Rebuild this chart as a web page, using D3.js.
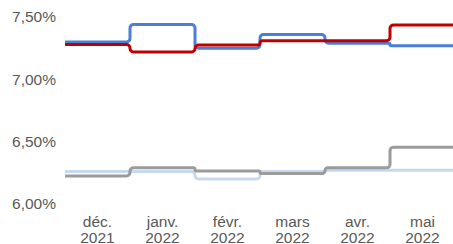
<!DOCTYPE html>
<html>
<head>
<meta charset="utf-8">
<script src="https://cdn.jsdelivr.net/npm/d3@7"></script>
<style>
body{margin:0;background:#fff;}
</style>
</head>
<body>
<div id="chart"></div>
<script>
let months=["déc.","janv.","févr.","mars","avr.","mai"];
let years=["2021","2022","2022","2022","2022","2022"];
let yTicks=[6.0,6.5,7.0,7.5];

// values in %
let blueValues=[7.30,7.44,7.25,7.36,7.29,7.27];
let redValues=[7.28,7.22,7.275,7.31,7.31,7.435];
let lightBlueValues=[6.26,6.26,6.20,6.26,6.27,6.27];
let grayValues=[6.225,6.29,6.265,6.245,6.29,6.455];

let series=[
	{name:"blue",values:blueValues,color:"#4a7fd7"},
	{name:"red",values:redValues,color:"#c00000"},
	{name:"lightblue",values:lightBlueValues,color:"#c6d9f1"},
	{name:"gray",values:grayValues,color:"#9b9b9b"}
];

let width=453,height=244;

let svg=d3.select("#chart").append("svg")
	.attr("width",width)
	.attr("height",height);

//---------SCALES--------------
let x=d3.scaleBand()
	.domain(d3.range(months.length))
	.range([65,455]);

let y=d3.scaleLinear()
	.domain([6,7.5])
	.range([204,17]);

let fr=d3.formatLocale({decimal:",",thousands:" ",grouping:[3],currency:["","€"]});
let fmt=fr.format(".2f");

//-------AXES------------------
let yAxis=d3.axisLeft(y)
	.tickValues(yTicks)
	.tickSize(0)
	.tickPadding(0)
	.tickFormat(d=>fmt(d)+"%");

let yAxisGroup=svg.append("g")
	.attr("transform","translate(56,0)")
	.call(yAxis);
yAxisGroup.select(".domain").remove();
yAxisGroup.selectAll("text")
	.attr("font-family","'Liberation Sans', Arial, sans-serif")
	.attr("font-size","15.5px")
	.attr("fill","#595959");

let xLabels=svg.append("g").selectAll("text")
	.data(d3.range(months.length))
	.enter().append("text")
	.attr("text-anchor","middle")
	.attr("font-family","'Liberation Sans', Arial, sans-serif")
	.attr("font-size","15.5px")
	.attr("fill","#595959");
xLabels.append("tspan")
	.attr("x",i=>x(i)+x.bandwidth()/2)
	.attr("y",227)
	.text(i=>months[i]);
xLabels.append("tspan")
	.attr("x",i=>x(i)+x.bandwidth()/2)
	.attr("y",243)
	.text(i=>years[i]);

//--------STEP LINES (rounded corners)--------
function stepPath(values){
	let pts=[];
	values.forEach(function(v,i){
		pts.push([x(i),y(v)]);
		pts.push([x(i)+x.bandwidth(),y(v)]);
	});
	// merge into corner list
	let p=d3.path();
	p.moveTo(pts[0][0],pts[0][1]);
	for(let i=1;i<pts.length-1;i++){
		let prev=pts[i-1],cur=pts[i],next=pts[i+1];
		let dy=Math.abs(next[1]-cur[1])||Math.abs(cur[1]-prev[1]);
		let r=Math.min(3.5,dy/2);
		if(r<0.01||(prev[1]===cur[1]&&cur[1]===next[1]&&cur[0]===next[0])){
			p.lineTo(cur[0],cur[1]);
			continue;
		}
		p.arcTo(cur[0],cur[1],next[0],next[1],r);
	}
	let last=pts[pts.length-1];
	p.lineTo(last[0],last[1]);
	return p.toString();
}

svg.append("g").selectAll("path")
	.data(series)
	.enter().append("path")
	.attr("d",d=>stepPath(d.values))
	.attr("fill","none")
	.attr("stroke",d=>d.color)
	.attr("stroke-width",3)
	.attr("stroke-linejoin","round");
</script>
</body>
</html>
